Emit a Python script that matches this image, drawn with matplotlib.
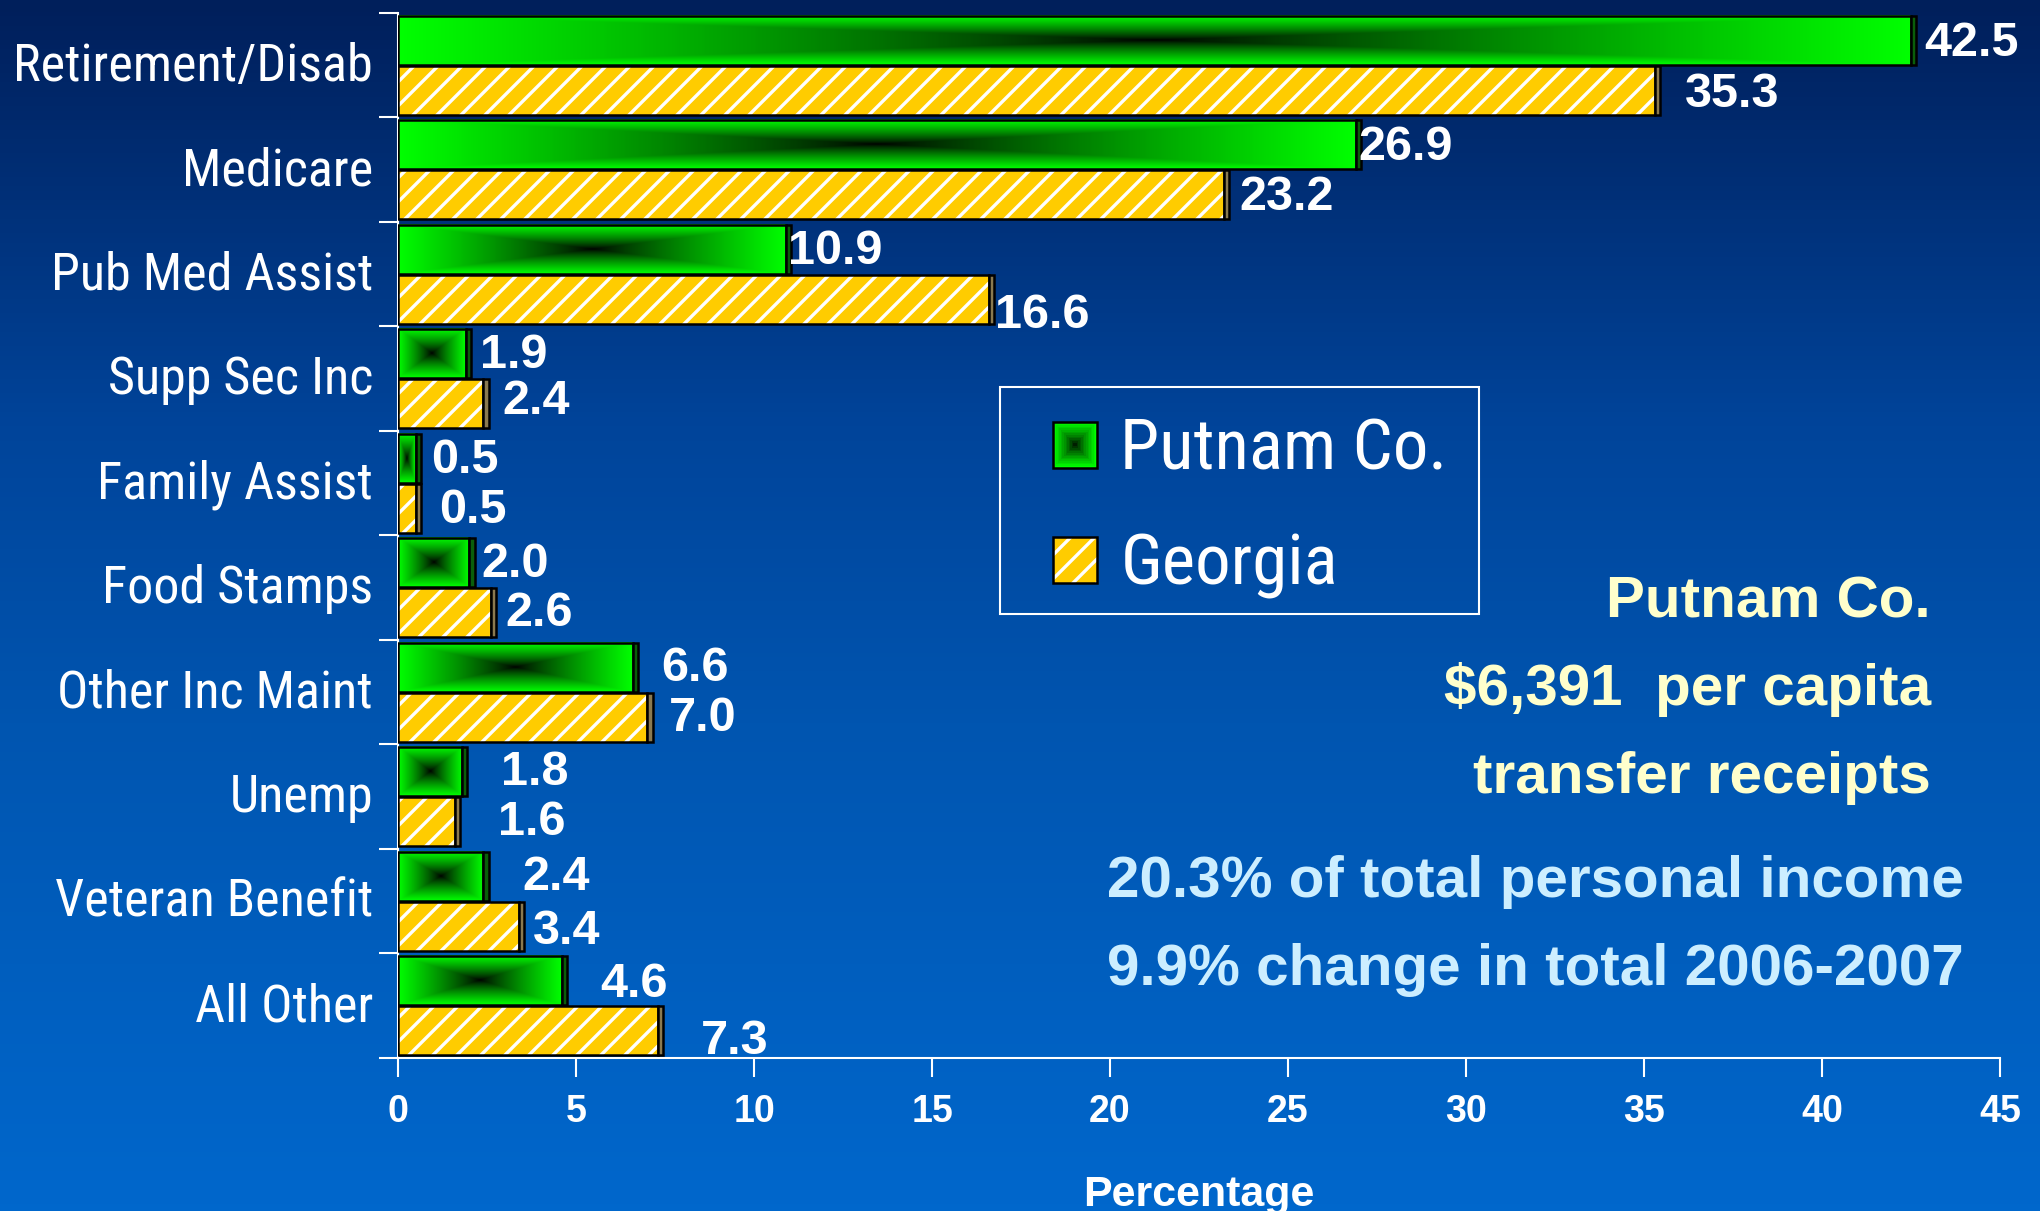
import numpy as np
import matplotlib
matplotlib.use("Agg")
import matplotlib.pyplot as plt
from matplotlib import font_manager
from matplotlib.colors import LinearSegmentedColormap
from matplotlib.patches import Rectangle, Patch
from matplotlib.legend_handler import HandlerBase
from matplotlib.transforms import ScaledTranslation

categories = ["Retirement/Disab", "Medicare", "Pub Med Assist", "Supp Sec Inc",
              "Family Assist", "Food Stamps", "Other Inc Maint", "Unemp",
              "Veteran Benefit", "All Other"]
putnam = [42.5, 26.9, 10.9, 1.9, 0.5, 2.0, 6.6, 1.8, 2.4, 4.6]
georgia = [35.3, 23.2, 16.6, 2.4, 0.5, 2.6, 7.0, 1.6, 3.4, 7.3]
series_names = ["Putnam Co.", "Georgia"]
xticks = list(range(0, 50, 5))

# label nudges in pixels (dx right, dy down), the original slide is hand placed
putnam_nudge = [(8, 3), (-3, 3), (-3, 2), (9, 2), (10, 2), (7, 2), (23, 1), (34, 1), (34, 1), (33, 4)]
georgia_nudge = [(25, 4), (10, 3), (1, 16), (14, -2), (18, 2), (9, 1), (16, 1), (38, 1), (9, 5), (38, 11)]


def pick(names):
    for n in names:
        try:
            font_manager.findfont(font_manager.FontProperties(family=n), fallback_to_default=False)
            return n
        except ValueError:
            pass
    return "DejaVu Sans"


narrow = pick(["Liberation Sans Narrow", "Arial Narrow", "Roboto Condensed", "Liberation Sans"])
bold = pick(["Liberation Sans", "Arial", "DejaVu Sans"])

# dpi 144 so the '//' hatch comes out at ~12px spacing; sizes below were tuned at 100 dpi
DPI = 144
k = 100 / DPI


def s(x):
    return x * k


plt.rcParams["font.family"] = [bold, "DejaVu Sans"]
plt.rcParams["hatch.linewidth"] = s(2.4)

W, H = 2040, 1211
fig = plt.figure(figsize=(W / DPI, H / DPI), dpi=DPI)

# background gradient
bg = fig.add_axes([0, 0, 1, 1], zorder=-10)
bg_cmap = LinearSegmentedColormap.from_list(
    "bg", [(0, "#0067cc"), (0.4, "#0055b0"), (0.65, "#00449a"), (1.0, "#001f5b")])
bg.imshow(np.linspace(1, 0, 256)[:, None], aspect="auto", cmap=bg_cmap,
          extent=[0, 1, 0, 1], interpolation="bilinear")
bg.axis("off")

ax = fig.add_axes([398 / W, 1 - 1058 / H, 1602 / W, 1045 / H])
ax.set_facecolor("none")

n = len(categories)
y = np.arange(n)
off, h = 0.24, 0.47
cap = 0.15
lw = s(1.8)

# rectangular "from centre" gradient for the green bars
u = np.linspace(-1, 1, 401)
v = np.linspace(-1, 1, 101)
grad = np.maximum(np.abs(u)[None, :], np.abs(v)[:, None]) ** 0.8
green_cmap = LinearSegmentedColormap.from_list("gr", ["#000000", "#00ff00"])

gbars = ax.barh(y - off, putnam, height=h, fill=False, edgecolor="black", lw=lw, zorder=3)
for b in gbars:
    x0, y0 = b.get_x(), b.get_y()
    ax.imshow(grad, cmap=green_cmap, vmin=0, vmax=1, aspect="auto", interpolation="bilinear",
              extent=(x0, x0 + b.get_width(), y0 + b.get_height(), y0), zorder=2)
ax.barh(y - off, cap, left=putnam, height=h, color="#0a5e0a", edgecolor="black", lw=lw, zorder=3)

ax.barh(y + off, georgia, height=h, color="#ffcc00", edgecolor="white", hatch="//", lw=0, zorder=2)
ax.barh(y + off, georgia, height=h, fill=False, edgecolor="black", lw=lw, zorder=3)
ax.barh(y + off, cap, left=georgia, height=h, color="#8a7a50", edgecolor="black", lw=lw, zorder=3)

for vals, pos, nudge in [(putnam, y - off, putnam_nudge), (georgia, y + off, georgia_nudge)]:
    for val, yy, (dx, dy) in zip(vals, pos, nudge):
        ax.annotate(f"{val:.1f}", (val + cap, yy), xytext=(dx, -dy), textcoords="offset pixels",
                    ha="left", va="center", color="white", fontsize=s(35), fontweight="bold",
                    zorder=5, annotation_clip=False)

ax.set_xlim(0, 45)
ax.set_ylim(n - 0.5, -0.5)
ax.set_xticks(xticks)
ax.set_xticklabels([str(t) for t in xticks], fontsize=s(27), fontweight="bold", color="white")
ax.set_yticks(np.arange(-0.5, n, 1))
ax.set_yticklabels([])
ax.set_yticks(y, minor=True)
ax.set_yticklabels(categories, minor=True, fontsize=s(37.5), color="white", family=narrow)
ax.tick_params(axis="y", which="major", length=s(14), width=s(1.5), color="white")
ax.tick_params(axis="y", which="minor", length=0, pad=s(18))
ax.tick_params(axis="x", length=s(14), width=s(1.5), color="white", pad=s(12))
for sp in ["top", "right"]:
    ax.spines[sp].set_visible(False)
for sp in ["left", "bottom"]:
    ax.spines[sp].set_color("white")
    ax.spines[sp].set_linewidth(s(1.5))
ax.set_xlabel("Percentage", fontsize=s(31), fontweight="bold", color="white", labelpad=s(32))

# category labels sit a touch above the group centre on the slide
lift = ScaledTranslation(0, 4 / DPI, fig.dpi_scale_trans)
for lbl in ax.get_yticklabels(minor=True):
    lbl.set_transform(lbl.get_transform() + lift)


class GradientHandler(HandlerBase):
    def create_artists(self, legend, orig_handle, xdescent, ydescent, width, height, fontsize, trans):
        arts = []
        steps = 14
        for i in range(steps):
            f = i / steps
            arts.append(Rectangle((-xdescent + width * f / 2, -ydescent + height * f / 2),
                                  width * (1 - f), height * (1 - f),
                                  facecolor=green_cmap((1 - f) ** 0.8), edgecolor="none", transform=trans))
        arts.append(Rectangle((-xdescent, -ydescent), width, height, fill=False,
                              edgecolor="black", lw=lw, transform=trans))
        return arts


green_handle = Patch(facecolor="#00ff00")
yellow_handle = (Patch(facecolor="#ffcc00", edgecolor="white", hatch="//", lw=0),
                 Patch(fill=False, edgecolor="black", lw=lw))
leg = ax.legend([green_handle, yellow_handle], series_names,
                handler_map={green_handle: GradientHandler()},
                loc="center left", bbox_to_anchor=(1053 / W, 1 - 508 / H), bbox_transform=fig.transFigure,
                borderaxespad=0, borderpad=0, prop={"family": narrow, "size": s(51)},
                handlelength=0.62, handleheight=0.62, handletextpad=0.33,
                labelspacing=0.68, frameon=False)
for t in leg.get_texts():
    t.set_color("white")
# the slide's legend box is wider than its content, so draw the frame on its own
fig.add_artist(Rectangle((1000 / W, 1 - 614 / H), 479 / W, 227 / H, transform=fig.transFigure,
                         fill=False, edgecolor="white", lw=s(1.5)))

pale = "#ffffcc"
fig.text(1931 / W, 1 - 617 / H, "Putnam Co.", ha="right", va="baseline", color=pale,
         fontsize=s(42), fontweight="bold")
fig.text(1931 / W, 1 - 705 / H, "$6,391  per capita", ha="right", va="baseline", color=pale,
         fontsize=s(42), fontweight="bold")
fig.text(1931 / W, 1 - 793 / H, "transfer receipts", ha="right", va="baseline", color=pale,
         fontsize=s(42), fontweight="bold")
light = "#cceeff"
fig.text(1107 / W, 1 - 897 / H, "20.3% of total personal income", ha="left", va="baseline",
         color=light, fontsize=s(42), fontweight="bold")
fig.text(1107 / W, 1 - 985 / H, "9.9% change in total 2006-2007", ha="left", va="baseline",
         color=light, fontsize=s(42), fontweight="bold")

fig.savefig("out.png", dpi=DPI)
